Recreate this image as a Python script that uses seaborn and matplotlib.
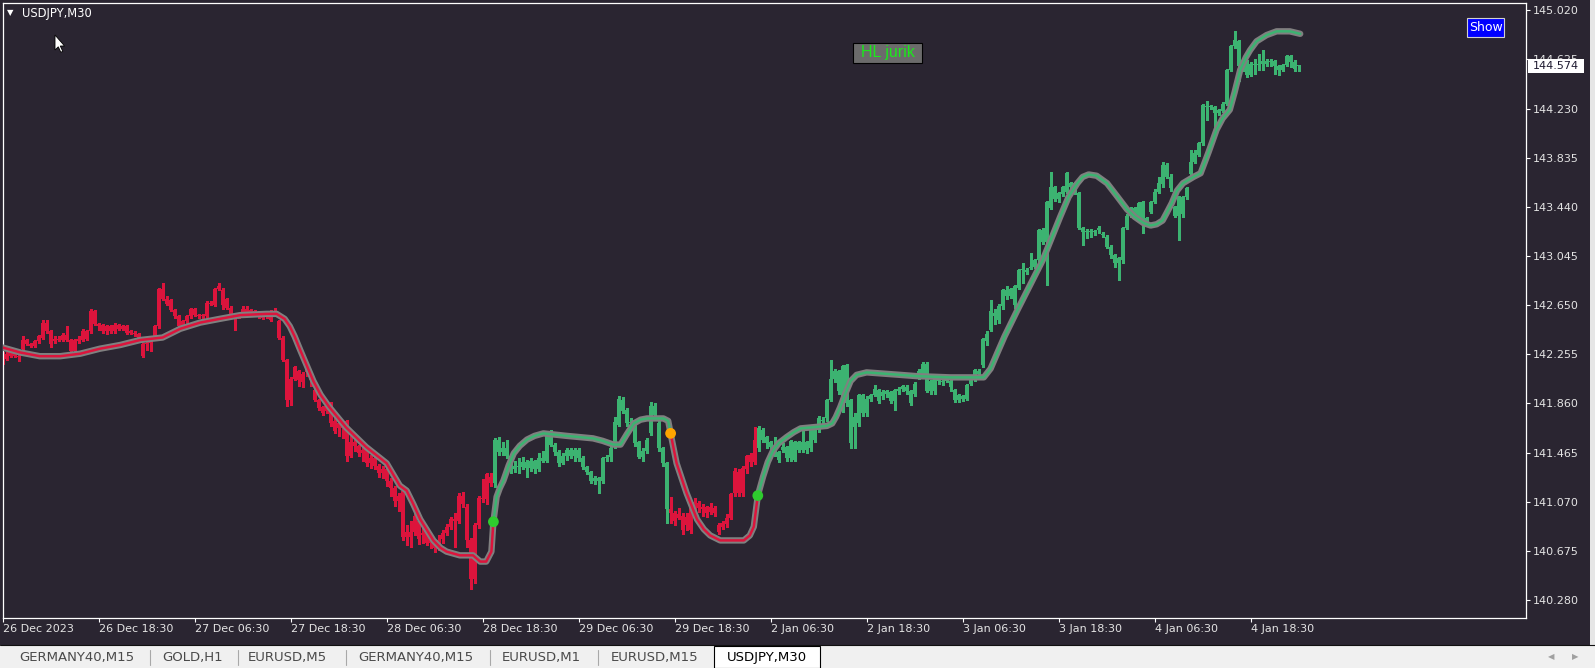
import numpy as np
import pandas as pd
import matplotlib
matplotlib.use("Agg")
import matplotlib.pyplot as plt
import seaborn as sns
from matplotlib.patches import Rectangle, Polygon

# ---------------- values (USDJPY, M30) ----------------
time_labels = ["26 Dec 2023", "26 Dec 18:30", "27 Dec 06:30", "27 Dec 18:30",
               "28 Dec 06:30", "28 Dec 18:30", "29 Dec 06:30", "29 Dec 18:30",
               "2 Jan 06:30", "2 Jan 18:30", "3 Jan 06:30", "3 Jan 18:30",
               "4 Jan 06:30", "4 Jan 18:30"]
time_label_bars = [0, 24, 48, 72, 96, 120, 144, 168, 192, 216, 240, 264, 288, 312]

price_ticks = [140.280, 140.675, 141.070, 141.465, 141.860, 142.255, 142.650,
               143.045, 143.440, 143.835, 144.230, 144.625, 145.020]
price_tick_labels = ["140.280", "140.675", "141.070", "141.465", "141.860", "142.255",
                     "142.650", "143.045", "143.440", "143.835", "144.230", "144.625",
                     "145.020"]
last_price = "144.574"

opens = [
    142.26, 142.22, 142.24, 142.27, 142.24, 142.30, 142.37, 142.34, 142.32, 142.36,
    142.39, 142.51, 142.44, 142.36, 142.38, 142.37, 142.41, 142.37, 142.28, 142.38,
    142.37, 142.44, 142.44, 142.60, 142.50, 142.49, 142.44, 142.48, 142.44, 142.49,
    142.46, 142.48, 142.44, 142.43, 142.42, 142.34, 142.35, 142.36, 142.40, 142.48,
    142.78, 142.70, 142.69, 142.61, 142.56, 142.48, 142.52, 142.56, 142.62, 142.57,
    142.56, 142.56, 142.66, 142.65, 142.78, 142.77, 142.70, 142.63, 142.58, 142.58,
    142.62, 142.62, 142.61, 142.60, 142.58, 142.57, 142.58, 142.60, 142.60, 142.52,
    142.39, 142.21, 142.06, 142.15, 142.12, 142.10, 142.14, 142.09, 141.97, 141.89,
    141.83, 141.80, 141.86, 141.72, 141.66, 141.70, 141.72, 141.44, 141.55, 141.52,
    141.46, 141.49, 141.38, 141.42, 141.36, 141.30, 141.33, 141.24, 141.18, 141.08,
    141.16, 140.83, 140.79, 140.96, 140.92, 140.80, 140.82, 140.76, 140.73, 140.72,
    140.77, 140.82, 140.87, 140.93, 140.92, 141.12, 141.03, 140.76, 140.88, 140.88,
    141.10, 141.09, 141.27, 141.22, 141.57, 141.47, 141.50, 141.44, 141.33, 141.36,
    141.35, 141.39, 141.34, 141.40, 141.33, 141.42, 141.40, 141.61, 141.53, 141.47,
    141.38, 141.44, 141.49, 141.44, 141.49, 141.42, 141.35, 141.31, 141.24, 141.26,
    141.24, 141.42, 141.43, 141.52, 141.69, 141.89, 141.81, 141.70, 141.70, 141.55,
    141.43, 141.48, 141.62, 141.84, 141.70, 141.50, 141.38, 141.01, 140.98, 140.94,
    140.96, 140.88, 140.84, 141.07, 141.02, 141.03, 141.03, 140.99, 141.02, 140.88,
    140.87, 140.89, 140.94, 141.14, 141.14, 141.14, 141.33, 141.39, 141.39, 141.50,
    141.65, 141.59, 141.55, 141.51, 141.47, 141.51, 141.51, 141.42, 141.55, 141.49,
    141.55, 141.49, 141.50, 141.65, 141.65, 141.73, 141.74, 141.89, 142.06, 142.12,
    141.81, 142.17, 141.89, 141.67, 141.70, 141.93, 141.78, 141.90, 141.93, 141.97,
    141.92, 141.94, 141.95, 141.88, 141.96, 141.98, 141.99, 141.96, 141.94, 142.07,
    142.10, 142.18, 141.96, 141.96, 142.04, 142.03, 142.04, 142.04, 141.97, 141.93,
    141.92, 141.90, 142.02, 142.05, 142.12, 142.17, 142.36, 142.45, 142.59, 142.53,
    142.64, 142.77, 142.72, 142.65, 142.79, 142.93, 142.93, 142.95, 142.96, 143.01,
    143.25, 143.16, 143.43, 143.60, 143.50, 143.54, 143.56, 143.63, 143.63, 143.55,
    143.27, 143.24, 143.24, 143.24, 143.27, 143.22, 143.20, 143.12, 143.05, 143.03,
    143.01, 143.27, 143.37, 143.43, 143.34, 143.48, 143.35, 143.40, 143.48, 143.56,
    143.62, 143.78, 143.68, 143.44, 143.37, 143.38, 143.52, 143.70, 143.80, 143.86,
    143.95, 144.25, 144.25, 144.24, 144.19, 144.21, 144.27, 144.54, 144.73, 144.77,
    144.61, 144.61, 144.50, 144.59, 144.59, 144.59, 144.61, 144.60, 144.61, 144.57,
    144.54, 144.58, 144.65, 144.60, 144.57,
]
closes = [
    142.22, 142.26, 142.27, 142.24, 142.23, 142.37, 142.34, 142.32, 142.36, 142.40,
    142.51, 142.44, 142.34, 142.38, 142.37, 142.41, 142.37, 142.28, 142.37, 142.36,
    142.44, 142.38, 142.60, 142.50, 142.48, 142.44, 142.48, 142.44, 142.49, 142.46,
    142.48, 142.43, 142.43, 142.42, 142.39, 142.24, 142.34, 142.35, 142.48, 142.78,
    142.70, 142.66, 142.61, 142.56, 142.48, 142.52, 142.56, 142.62, 142.57, 142.56,
    142.57, 142.67, 142.67, 142.78, 142.80, 142.65, 142.63, 142.58, 142.54, 142.56,
    142.58, 142.59, 142.58, 142.57, 142.56, 142.55, 142.56, 142.53, 142.57, 142.39,
    142.21, 141.89, 141.89, 142.06, 142.05, 142.03, 142.11, 142.05, 141.89, 141.82,
    141.78, 141.86, 141.70, 141.64, 141.70, 141.66, 141.44, 141.55, 141.52, 141.46,
    141.49, 141.38, 141.42, 141.36, 141.30, 141.33, 141.24, 141.18, 141.08, 141.12,
    140.79, 140.79, 140.83, 140.83, 140.77, 140.82, 140.74, 140.74, 140.70, 140.76,
    140.82, 140.87, 140.93, 140.92, 141.12, 141.05, 140.76, 140.45, 140.45, 141.10,
    141.09, 141.29, 141.22, 141.57, 141.47, 141.50, 141.44, 141.33, 141.36, 141.35,
    141.39, 141.34, 141.40, 141.33, 141.42, 141.40, 141.61, 141.53, 141.47, 141.38,
    141.44, 141.49, 141.44, 141.49, 141.42, 141.35, 141.31, 141.24, 141.26, 141.24,
    141.42, 141.43, 141.50, 141.71, 141.90, 141.80, 141.70, 141.71, 141.54, 141.43,
    141.48, 141.57, 141.84, 141.77, 141.50, 141.38, 141.01, 140.98, 140.92, 140.97,
    140.84, 140.95, 141.07, 141.02, 141.06, 141.01, 140.98, 141.03, 140.98, 140.83,
    140.90, 140.94, 141.13, 141.32, 141.31, 141.34, 141.44, 141.45, 141.57, 141.66,
    141.57, 141.54, 141.51, 141.48, 141.41, 141.49, 141.42, 141.56, 141.41, 141.55,
    141.49, 141.55, 141.65, 141.57, 141.74, 141.72, 141.89, 142.06, 142.12, 141.96,
    142.16, 141.86, 141.54, 141.75, 141.93, 141.78, 141.90, 141.93, 141.98, 141.88,
    141.95, 141.96, 141.88, 141.97, 141.98, 142.00, 141.96, 141.86, 142.02, 142.12,
    142.18, 141.96, 142.04, 142.06, 142.04, 142.04, 142.06, 141.99, 141.89, 141.89,
    141.90, 142.01, 142.05, 142.13, 142.10, 142.38, 142.42, 142.60, 142.56, 142.64,
    142.77, 142.72, 142.78, 142.80, 142.93, 142.93, 142.92, 142.96, 143.01, 143.25,
    143.16, 143.48, 143.60, 143.50, 143.55, 143.60, 143.71, 143.60, 143.55, 143.27,
    143.24, 143.24, 143.24, 143.24, 143.25, 143.21, 143.12, 143.05, 142.99, 142.99,
    143.27, 143.37, 143.43, 143.36, 143.47, 143.32, 143.32, 143.48, 143.56, 143.63,
    143.78, 143.68, 143.59, 143.37, 143.52, 143.52, 143.59, 143.80, 143.87, 143.95,
    144.26, 144.24, 144.24, 144.19, 144.22, 144.27, 144.54, 144.73, 144.78, 144.57,
    144.54, 144.50, 144.59, 144.58, 144.58, 144.61, 144.59, 144.61, 144.57, 144.54,
    144.58, 144.65, 144.60, 144.55, 144.57,
]
highs = [
    142.27, 142.27, 142.28, 142.28, 142.26, 142.40, 142.38, 142.35, 142.37, 142.41,
    142.53, 142.53, 142.45, 142.40, 142.40, 142.43, 142.48, 142.38, 142.38, 142.40,
    142.46, 142.45, 142.62, 142.61, 142.51, 142.50, 142.49, 142.49, 142.51, 142.50,
    142.49, 142.49, 142.45, 142.44, 142.43, 142.35, 142.36, 142.37, 142.49, 142.79,
    142.83, 142.72, 142.70, 142.62, 142.57, 142.53, 142.57, 142.63, 142.63, 142.58,
    142.58, 142.68, 142.68, 142.79, 142.83, 142.79, 142.71, 142.64, 142.59, 142.59,
    142.64, 142.64, 142.62, 142.61, 142.60, 142.58, 142.59, 142.61, 142.63, 142.53,
    142.40, 142.22, 142.07, 142.16, 142.13, 142.11, 142.15, 142.10, 141.98, 141.90,
    141.84, 141.88, 141.87, 141.74, 141.72, 141.71, 141.73, 141.60, 141.57, 141.53,
    141.52, 141.50, 141.45, 141.43, 141.37, 141.36, 141.34, 141.26, 141.20, 141.14,
    141.18, 140.88, 140.92, 140.98, 140.94, 140.86, 140.84, 140.77, 140.75, 140.80,
    140.84, 140.89, 140.95, 140.98, 141.14, 141.15, 141.05, 140.78, 140.90, 141.12,
    141.25, 141.30, 141.30, 141.58, 141.59, 141.55, 141.57, 141.45, 141.40, 141.42,
    141.43, 141.41, 141.42, 141.41, 141.46, 141.48, 141.63, 141.65, 141.54, 141.49,
    141.46, 141.50, 141.50, 141.50, 141.50, 141.44, 141.36, 141.32, 141.28, 141.27,
    141.43, 141.45, 141.52, 141.75, 141.92, 141.91, 141.82, 141.74, 141.71, 141.56,
    141.50, 141.58, 141.87, 141.86, 141.72, 141.51, 141.39, 141.11, 141.00, 141.02,
    140.98, 140.98, 141.08, 141.10, 141.08, 141.05, 141.04, 141.06, 141.04, 140.90,
    140.92, 140.97, 141.14, 141.34, 141.33, 141.36, 141.45, 141.46, 141.67, 141.68,
    141.66, 141.60, 141.56, 141.59, 141.48, 141.54, 141.52, 141.57, 141.56, 141.56,
    141.65, 141.56, 141.66, 141.68, 141.76, 141.75, 141.90, 142.21, 142.14, 142.13,
    142.17, 142.18, 141.90, 141.78, 141.94, 141.94, 141.92, 141.94, 142.01, 141.98,
    141.97, 141.97, 141.96, 141.98, 141.99, 142.01, 142.01, 141.97, 142.03, 142.14,
    142.19, 142.19, 142.05, 142.07, 142.05, 142.05, 142.08, 142.05, 141.98, 141.94,
    141.93, 142.02, 142.06, 142.14, 142.14, 142.39, 142.44, 142.69, 142.62, 142.66,
    142.78, 142.80, 142.79, 142.81, 142.94, 142.99, 142.95, 143.07, 143.02, 143.26,
    143.27, 143.49, 143.72, 143.61, 143.56, 143.61, 143.72, 143.64, 143.64, 143.56,
    143.28, 143.26, 143.26, 143.25, 143.29, 143.24, 143.21, 143.13, 143.06, 143.04,
    143.28, 143.38, 143.44, 143.44, 143.48, 143.49, 143.36, 143.49, 143.58, 143.68,
    143.80, 143.79, 143.70, 143.45, 143.53, 143.53, 143.60, 143.90, 143.90, 143.96,
    144.27, 144.29, 144.26, 144.25, 144.23, 144.28, 144.55, 144.74, 144.85, 144.78,
    144.62, 144.62, 144.60, 144.63, 144.67, 144.70, 144.63, 144.63, 144.62, 144.58,
    144.59, 144.66, 144.66, 144.62, 144.58,
]
lows = [
    142.18, 142.21, 142.23, 142.23, 142.20, 142.29, 142.33, 142.31, 142.31, 142.35,
    142.38, 142.43, 142.31, 142.35, 142.36, 142.36, 142.36, 142.27, 142.27, 142.35,
    142.36, 142.37, 142.43, 142.49, 142.45, 142.43, 142.42, 142.43, 142.43, 142.45,
    142.45, 142.42, 142.42, 142.40, 142.38, 142.23, 142.29, 142.28, 142.39, 142.47,
    142.69, 142.65, 142.60, 142.55, 142.47, 142.47, 142.51, 142.55, 142.56, 142.55,
    142.55, 142.55, 142.65, 142.64, 142.77, 142.62, 142.62, 142.57, 142.45, 142.55,
    142.57, 142.58, 142.57, 142.56, 142.55, 142.54, 142.55, 142.52, 142.56, 142.38,
    142.20, 141.84, 141.85, 142.05, 142.00, 141.99, 142.08, 142.00, 141.88, 141.81,
    141.77, 141.78, 141.68, 141.62, 141.60, 141.58, 141.40, 141.43, 141.48, 141.44,
    141.40, 141.36, 141.34, 141.33, 141.27, 141.26, 141.20, 141.12, 141.04, 141.00,
    140.76, 140.72, 140.71, 140.80, 140.73, 140.74, 140.72, 140.70, 140.67, 140.68,
    140.74, 140.80, 140.85, 140.71, 140.90, 141.03, 140.71, 140.37, 140.42, 140.86,
    141.07, 141.05, 141.20, 141.19, 141.45, 141.45, 141.42, 141.30, 141.31, 141.30,
    141.33, 141.27, 141.32, 141.30, 141.32, 141.39, 141.39, 141.52, 141.45, 141.36,
    141.37, 141.41, 141.42, 141.40, 141.40, 141.33, 141.29, 141.22, 141.21, 141.14,
    141.22, 141.40, 141.40, 141.50, 141.68, 141.78, 141.68, 141.68, 141.52, 141.42,
    141.40, 141.46, 141.61, 141.76, 141.48, 141.36, 140.90, 140.90, 140.88, 140.93,
    140.81, 140.84, 140.82, 141.00, 140.99, 140.96, 140.95, 140.97, 140.96, 140.81,
    140.85, 140.87, 140.93, 141.12, 141.12, 141.12, 141.30, 141.36, 141.37, 141.48,
    141.55, 141.50, 141.49, 141.44, 141.39, 141.47, 141.40, 141.40, 141.40, 141.47,
    141.47, 141.46, 141.48, 141.55, 141.63, 141.66, 141.72, 141.88, 142.03, 141.94,
    141.79, 141.84, 141.50, 141.50, 141.68, 141.76, 141.76, 141.88, 141.92, 141.86,
    141.90, 141.91, 141.86, 141.81, 141.94, 141.96, 141.94, 141.85, 141.92, 142.06,
    142.08, 141.95, 141.94, 141.94, 142.02, 142.01, 142.03, 141.96, 141.87, 141.87,
    141.88, 141.89, 142.01, 142.04, 142.09, 142.15, 142.33, 142.44, 142.50, 142.51,
    142.62, 142.70, 142.71, 142.63, 142.78, 142.83, 142.90, 142.94, 142.95, 143.00,
    143.14, 142.81, 143.42, 143.49, 143.48, 143.53, 143.55, 143.59, 143.54, 143.26,
    143.13, 143.19, 143.20, 143.21, 143.23, 143.20, 143.11, 143.03, 142.96, 142.85,
    142.99, 143.26, 143.36, 143.35, 143.33, 143.23, 143.30, 143.39, 143.47, 143.55,
    143.60, 143.67, 143.57, 143.36, 143.17, 143.36, 143.50, 143.69, 143.79, 143.85,
    143.94, 144.14, 144.23, 144.04, 144.18, 144.20, 144.26, 144.53, 144.72, 144.45,
    144.53, 144.48, 144.49, 144.51, 144.54, 144.54, 144.57, 144.57, 144.51, 144.50,
    144.53, 144.57, 144.56, 144.53, 144.53,
]

# HL jurik line (bar index, price)
jurik_bar = [0, 4.4, 9.3, 14.4, 19.4, 24.3, 29.4, 34.4, 40, 44.4,
             49.4, 54.3, 59.4, 66, 68.5, 70.5, 71.8, 73, 74.4, 77.7,
             79.5, 81.7, 85.8, 90.9, 96, 99.3, 101, 102.7, 104.4, 107.7,
             109.5, 111, 114.3, 117.6, 119.4, 120.9, 122.2, 122.7, 123.5, 124.3,
             125.2, 126.5, 127.8, 129.3, 131.1, 133, 135.2, 141, 147.6, 150,
             152.7, 154.5, 156, 157.8, 159.5, 161.1, 165.2, 166.4, 167, 168.5,
             171, 173.6, 175.3, 176.9, 179.4, 185.3, 186.8, 187.8, 188.8, 190.1,
             191.3, 192.6, 194, 196, 197.8, 199.5, 206.1, 207.4, 208.3, 209.4,
             210.7, 212, 213.5, 216, 224.4, 228.5, 236.9, 245.3, 247, 248.6,
             250.5, 253.7, 260, 264.4, 266.5, 268.7, 270, 271.5, 273.5, 276.1,
             278.5, 281.1, 283, 285.2, 287, 288.5, 290, 291, 292.3, 293.6,
             295.1, 297.7, 299.5, 301.5, 303.5, 305, 306.8, 308, 309.4, 310.8,
             311.9, 313.5, 316, 318.5, 321.8, 324.4]
jurik_val = [142.31, 142.27, 142.24, 142.24, 142.26, 142.30, 142.33, 142.37, 142.39, 142.46,
             142.51, 142.54, 142.57, 142.58, 142.58, 142.54, 142.48, 142.40, 142.29, 142.04,
             141.93, 141.83, 141.67, 141.51, 141.38, 141.20, 141.16, 141.05, 140.93, 140.76,
             140.70, 140.67, 140.64, 140.64, 140.59, 140.59, 140.67, 140.91, 141.11, 141.18,
             141.24, 141.36, 141.46, 141.52, 141.57, 141.60, 141.62, 141.60, 141.58, 141.56,
             141.53, 141.53, 141.61, 141.70, 141.73, 141.74, 141.74, 141.72, 141.62, 141.38,
             141.14, 140.93, 140.85, 140.80, 140.76, 140.76, 140.80, 140.87, 141.12, 141.27,
             141.39, 141.48, 141.54, 141.59, 141.63, 141.66, 141.68, 141.70, 141.75, 141.83,
             141.94, 142.04, 142.09, 142.11, 142.09, 142.08, 142.07, 142.07, 142.14, 142.26,
             142.40, 142.61, 143.01, 143.36, 143.52, 143.63, 143.68, 143.70, 143.69, 143.63,
             143.53, 143.42, 143.36, 143.31, 143.29, 143.30, 143.33, 143.39, 143.47, 143.57,
             143.63, 143.68, 143.71, 143.88, 144.06, 144.15, 144.22, 144.36, 144.54, 144.64,
             144.70, 144.77, 144.82, 144.85, 144.85, 144.83]

# trend change signals (dots)
signal_bar = [122.7, 167.0, 188.8]
signal_val = [140.91, 141.62, 141.12]
signal_kind = ["up", "down", "up"]

# ---------------- style ----------------
W, H = 1595, 668
BG = "#2A2531"
RED = "#DC143C"
GREEN = "#3CB371"
LINE_GRAY = "#808080"
TICK_TXT = "#E4E4E4"

sns.set_theme(style="dark", rc={"axes.facecolor": BG, "figure.facecolor": BG,
                                "axes.edgecolor": "white", "axes.grid": False})
plt.rcParams["font.family"] = ["DejaVu Sans"]

fig = plt.figure(figsize=(W / 100, H / 100), dpi=100)
left, right, top, bottom = 2.5, 1526, 3, 617.5
ax = fig.add_axes([left / W, 1 - bottom / H, (right - left) / W, (bottom - top) / H])
ax.set_facecolor(BG)

# ---------------- candles ----------------
candles = pd.DataFrame({"bar": np.arange(len(closes)), "open": opens,
                        "high": highs, "low": lows, "close": closes})
n_flips = np.searchsorted(signal_bar, candles["bar"], side="right")
trend = np.array(["down"] + signal_kind)[n_flips]
colors = np.where(trend == "up", GREEN, RED)

body_lo = candles[["open", "close"]].min(axis=1)
body_h = (candles["open"] - candles["close"]).abs().clip(lower=0.008)
ax.vlines(candles["bar"], candles["low"], candles["high"], colors=colors,
          linewidth=0.9, zorder=2, antialiased=False)
ax.bar(candles["bar"], body_h, bottom=body_lo, width=0.8, color=colors,
       linewidth=0, zorder=2, antialiased=False)

# ---------------- jurik line ----------------
jurik = pd.DataFrame({"bar": jurik_bar, "value": jurik_val})
sns.lineplot(data=jurik, x="bar", y="value", ax=ax, color=LINE_GRAY, linewidth=4.6,
             sort=False, estimator=None, solid_capstyle="round",
             solid_joinstyle="round", zorder=3)
bounds = [-np.inf] + signal_bar + [np.inf]
kinds = ["down"] + signal_kind
for k, kind in enumerate(kinds):
    seg = jurik[(jurik["bar"] >= bounds[k]) & (jurik["bar"] <= bounds[k + 1])]
    sns.lineplot(data=seg, x="bar", y="value", ax=ax,
                 color=GREEN if kind == "up" else RED, linewidth=1.8,
                 sort=False, estimator=None, solid_joinstyle="round", zorder=4)

signals = pd.DataFrame({"bar": signal_bar, "value": signal_val, "kind": signal_kind})
sns.scatterplot(data=signals, x="bar", y="value", hue="kind",
                palette={"up": "#2ECC2E", "down": "#FFA500"}, s=60,
                edgecolor="none", legend=False, ax=ax, zorder=5)

# ---------------- axes ----------------
ax.set_xlim((left - 2.6) / 4.0, (right - 2.6) / 4.0)
ax.set_ylim(145.0776 - (bottom - 3) * 0.008034, 145.0776)
ax.set_xlabel("")
ax.set_ylabel("")
ax.grid(False)
for sp in ax.spines.values():
    sp.set_color("white")
    sp.set_linewidth(0.9)

ax.yaxis.tick_right()
ax.set_yticks(price_ticks, labels=price_tick_labels)
ax.set_xticks(time_label_bars, labels=time_labels, ha="left")
ax.tick_params(axis="y", right=True, left=False, length=3, width=0.8, color="white",
               labelsize=8, labelcolor=TICK_TXT, pad=2)
ax.tick_params(axis="x", bottom=True, length=3, width=0.8, color="white",
               labelsize=8, labelcolor=TICK_TXT, pad=2)


# ---------------- terminal chrome ----------------
def box(x0, y0, x1, y1, **kw):
    fig.add_artist(Rectangle((x0 / W, 1 - y1 / H), (x1 - x0) / W, (y1 - y0) / H,
                             transform=fig.transFigure, **kw))


def label(x, y, s, **kw):
    fig.text(x / W, 1 - y / H, s, va="center", **kw)


# symbol caption and mouse pointer
label(7, 12.5, "\u25bc", color="white", fontsize=6)
label(22, 13, "USDJPY,M30", color="white", fontsize=8.3)
arrow = [(55, 35), (55, 50), (58.3, 46.8), (60.8, 52.3), (62.8, 51.3), (60.3, 46), (64.6, 46)]
fig.add_artist(Polygon([(x / W, 1 - y / H) for x, y in arrow], closed=True,
                       transform=fig.transFigure, facecolor="white",
                       edgecolor="black", linewidth=0.6))

# indicator label and button
box(853, 43, 922, 63, facecolor="#6B6B6B", edgecolor="black", linewidth=0.8)
label(887.5, 53, "HL jurik", color="#1BE81B", fontsize=11.5, ha="center",
      family=["Liberation Sans", "DejaVu Sans"])
box(1467, 18, 1504, 37, facecolor="#0000FF", edgecolor="#D0D0D0", linewidth=0.8)
label(1485.5, 27.5, "Show", color="white", fontsize=9, ha="center")

# current price marker (covers the 144.625 tick label as in the terminal)
box(1528, 59, 1584, 73, facecolor="white", edgecolor="none", zorder=6)
label(1556, 66, last_price, color="#1E1A30", fontsize=8, ha="center", zorder=7)

# right window edge
box(1590, 0, 1595, 645, facecolor="#E6E6E6", edgecolor="none")

# tab bar
box(0, 645, 1595, 668, facecolor="#F0F0F0", edgecolor="none")
fig.add_artist(plt.Line2D([0, 1], [1 - 645 / H] * 2, transform=fig.transFigure,
                          color="#101010", linewidth=0.8))
box(714, 645.5, 820, 668, facecolor="white", edgecolor="black", linewidth=0.8)
tab_names = ["GERMANY40,M15", "GOLD,H1", "EURUSD,M5", "GERMANY40,M15",
             "EURUSD,M1", "EURUSD,M15", "USDJPY,M30"]
tab_centers = [77, 193, 287, 416, 541, 655, 767]
for name, cx in zip(tab_names, tab_centers):
    label(cx, 657.5, name, ha="center", fontsize=9.5,
          color="black" if name == "USDJPY,M30" else "#4A4A4A")
for sx in [150, 238, 346, 490, 598]:
    fig.add_artist(plt.Line2D([sx / W] * 2, [1 - 650 / H, 1 - 665 / H],
                              transform=fig.transFigure, color="#A8A8A8", linewidth=0.8))
label(1551, 657, "\u25c0", color="#A0A0A0", fontsize=6, ha="center")
label(1575, 657, "\u25b6", color="#A0A0A0", fontsize=6, ha="center")

fig.savefig("out.png", dpi=100, facecolor=BG)
